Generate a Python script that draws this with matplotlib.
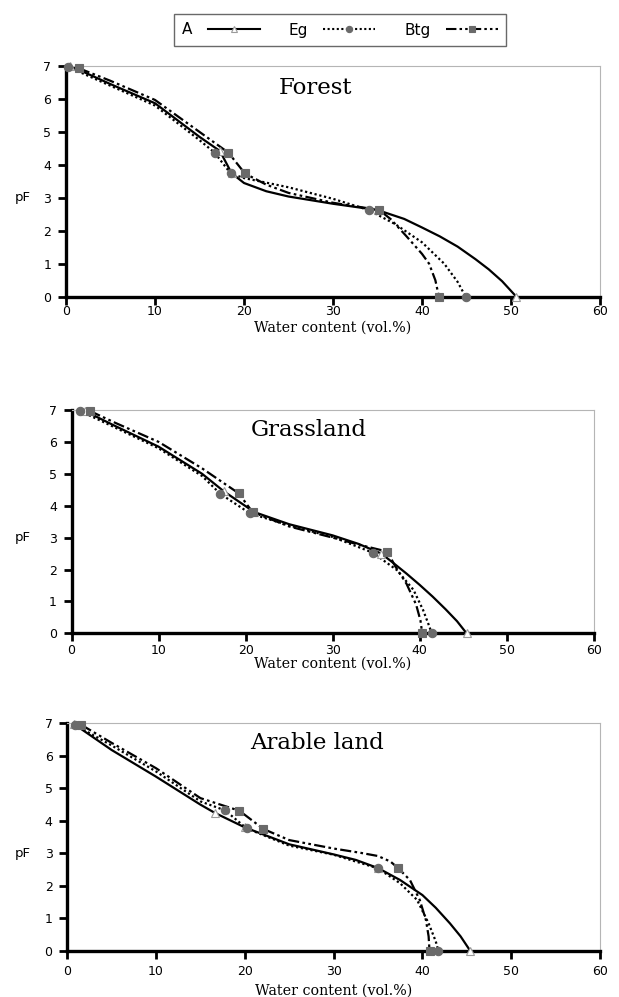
import matplotlib
matplotlib.use("Agg")
import matplotlib.pyplot as plt
from matplotlib.lines import Line2D

# панели
panels = ["Forest", "Grassland", "Arable land"]

# measured points (water content vol.%, pF)
forest_A_pts = [(0.5, 7.0), (17.3, 4.42), (18.6, 3.75), (35.0, 2.63), (50.6, 0.0)]
forest_Eg_pts = [(0.26, 6.97), (16.7, 4.37), (18.5, 3.74), (34.0, 2.63), (44.9, 0.0)]
forest_Btg_pts = [(1.46, 6.93), (18.25, 4.37), (20.1, 3.74), (35.2, 2.63), (41.9, 0.0)]

grass_A_pts = [(1.5, 6.97), (17.5, 4.45), (21.0, 3.8), (35.6, 2.5), (45.4, 0.0)]
grass_Eg_pts = [(0.97, 6.97), (17.1, 4.37), (20.5, 3.76), (34.6, 2.53), (41.4, 0.0)]
grass_Btg_pts = [(2.1, 6.97), (19.2, 4.39), (20.8, 3.8), (36.3, 2.56), (40.3, 0.0)]

arable_A_pts = [(0.8, 6.97), (16.6, 4.25), (20.0, 3.8), (35.0, 2.55), (45.4, 0.0)]
arable_Eg_pts = [(0.88, 6.95), (17.8, 4.32), (20.2, 3.77), (35.0, 2.54), (41.8, 0.0)]
arable_Btg_pts = [(1.6, 6.95), (19.4, 4.31), (22.1, 3.75), (37.3, 2.54), (40.8, 0.0)]

# fitted curves
forest_A_fit = [(0.5, 7.0), (5, 6.45), (10, 5.87), (15, 4.85), (17.3, 4.42), (18.6, 3.75),
                (20, 3.45), (22.5, 3.2), (25, 3.04), (30, 2.82), (35.0, 2.63), (38, 2.36),
                (40, 2.1), (42, 1.83), (44, 1.52), (46, 1.14), (47.5, 0.83), (49, 0.47),
                (50.6, 0.0)]
forest_Eg_fit = [(0.26, 6.97), (5, 6.4), (10, 5.8), (15, 4.75), (16.7, 4.37), (18.5, 3.74),
                 (20, 3.6), (25, 3.32), (30, 2.97), (34.0, 2.63), (37, 2.2), (40, 1.65),
                 (42.5, 1.0), (44, 0.45), (44.9, 0.0)]
forest_Btg_fit = [(1.46, 6.93), (5, 6.55), (10, 5.97), (15, 5.0), (18.25, 4.37), (20.1, 3.74),
                  (22.5, 3.4), (25, 3.15), (30, 2.85), (35.2, 2.63), (36.5, 2.35), (38.2, 1.85),
                  (40, 1.3), (40.8, 1.0), (41.5, 0.5), (41.9, 0.0)]

grass_A_fit = [(1.5, 6.97), (5, 6.5), (10, 5.85), (15, 5.0), (17.5, 4.45), (21.0, 3.8),
               (25, 3.42), (30, 3.07), (33, 2.8), (35.6, 2.5), (37, 2.2), (38.5, 1.87),
               (40, 1.52), (41.5, 1.15), (43, 0.75), (44.3, 0.38), (45.4, 0.0)]
grass_Eg_fit = [(0.97, 6.97), (5, 6.45), (10, 5.8), (15, 4.93), (17.1, 4.37), (20.5, 3.76),
                (25, 3.38), (30, 3.02), (34.6, 2.53), (37.4, 1.98), (39.3, 1.36),
                (40.4, 0.73), (41.0, 0.3), (41.4, 0.0)]
grass_Btg_fit = [(2.1, 6.97), (5, 6.6), (10, 6.0), (15, 5.17), (19.2, 4.39), (20.8, 3.8),
                 (25, 3.35), (30, 3.0), (33, 2.78), (36.3, 2.56), (37.2, 2.1), (38.5, 1.55),
                 (39.6, 0.9), (40.1, 0.4), (40.3, 0.0)]

arable_A_fit = [(0.8, 6.97), (5, 6.18), (10, 5.36), (15, 4.5), (16.6, 4.25), (20.0, 3.8),
                (25, 3.28), (30, 2.97), (32.5, 2.8), (35.0, 2.55), (37.5, 2.18), (40, 1.72),
                (41.5, 1.33), (43.1, 0.85), (44.3, 0.45), (45.4, 0.0)]
arable_Eg_fit = [(0.88, 6.95), (5, 6.32), (10, 5.52), (15, 4.6), (17.8, 4.32), (20.2, 3.77),
                 (25, 3.24), (30, 2.96), (35.0, 2.54), (37.5, 2.08), (39.4, 1.57), (40.7, 0.85),
                 (41.5, 0.3), (41.8, 0.0)]
arable_Btg_fit = [(1.6, 6.95), (5, 6.4), (10, 5.62), (15, 4.7), (19.4, 4.31), (22.1, 3.75),
                  (25, 3.41), (30, 3.15), (33, 3.02), (35, 2.92), (36.4, 2.75), (37.3, 2.54),
                  (38.6, 2.18), (39.7, 1.57), (40.4, 0.95), (40.7, 0.45), (40.8, 0.0)]

x_ticks = [0, 10, 20, 30, 40, 50, 60]
y_ticks = [0, 1, 2, 3, 4, 5, 6, 7]

series = ["A", "Eg", "Btg"]
styles = {
    "A": dict(ls="-", marker="^", mfc="white", mec="#9a9a9a", ms=5.5),
    "Eg": dict(ls=(0, (1, 1.2)), marker="o", mfc="#6a6a6a", mec="#6a6a6a", ms=6),
    "Btg": dict(ls=(0, (5, 1.5, 1.2, 1.5, 1.2, 1.5)), marker="s", mfc="#6a6a6a", mec="#6a6a6a", ms=5.5),
}

panel_data = [
    (forest_A_fit, forest_Eg_fit, forest_Btg_fit, forest_A_pts, forest_Eg_pts, forest_Btg_pts),
    (grass_A_fit, grass_Eg_fit, grass_Btg_fit, grass_A_pts, grass_Eg_pts, grass_Btg_pts),
    (arable_A_fit, arable_Eg_fit, arable_Btg_fit, arable_A_pts, arable_Eg_pts, arable_Btg_pts),
]

W, H = 619, 997
# axes boxes in pixels: left, top, right, bottom
boxes = [(66, 66, 600, 296.7), (71.6, 410, 593.6, 633.3), (67.2, 723.3, 600, 951)]
title_px = [(316, 88), (309, 430), (317, 743)]
tick_pad = [0.8, 2.2, 4.5]
xlabel_y = [328, 664, 991]

sans = ["DejaVu Sans"]
serif = ["DejaVu Serif"]

fig = plt.figure(figsize=(W / 100, H / 100), dpi=100)

for i, name in enumerate(panels):
    l, t, r, b = boxes[i]
    ax = fig.add_axes([l / W, 1 - b / H, (r - l) / W, (b - t) / H])
    fits = panel_data[i][:3]
    pts = panel_data[i][3:]
    for s, fit, p in zip(series, fits, pts):
        st = styles[s]
        ax.plot([q[0] for q in fit], [q[1] for q in fit], color="black", lw=1.6,
                ls=st["ls"], zorder=2, solid_capstyle="butt", solid_joinstyle="round")
        ax.plot([q[0] for q in p], [q[1] for q in p], ls="none", marker=st["marker"],
                mfc=st["mfc"], mec=st["mec"], ms=st["ms"], mew=0.8, zorder=3, clip_on=False)

    ax.set_xlim(0, 60)
    ax.set_ylim(0, 7)
    ax.set_xticks(x_ticks)
    ax.set_yticks(y_ticks)
    for sp in ["left", "bottom"]:
        ax.spines[sp].set_linewidth(2.4)
        ax.spines[sp].set_color("black")
    for sp in ["top", "right"]:
        ax.spines[sp].set_linewidth(0.8)
        ax.spines[sp].set_color("#b5b5b5")
    ax.tick_params(axis="both", direction="out", length=5.5, width=2, labelsize=9,
                   top=False, right=False)
    ax.tick_params(axis="x", pad=tick_pad[i])
    ax.tick_params(axis="y", pad=5)
    for lab in ax.get_xticklabels() + ax.get_yticklabels():
        lab.set_family(sans)

    tx = (title_px[i][0] - l) / (r - l)
    ty = (b - title_px[i][1]) / (b - t)
    ax.text(tx, ty, name, transform=ax.transAxes,
            ha="center", va="center", fontsize=16.5, family=serif)

    ax.set_xlabel("Water content (vol.%)", fontsize=10.3, family=serif, va="center")
    ax.xaxis.set_label_coords(0.5, -(xlabel_y[i] - b) / (b - t))
    ax.set_ylabel("pF", rotation=0, fontsize=9.5, family=sans, va="center", ha="center")
    ax.yaxis.set_label_coords(-(l - 23) / (r - l), 3 / 7)

handles = []
for s in series:
    st = styles[s]
    handles.append(Line2D([], [], color="black", lw=1.5, ls=st["ls"], marker=st["marker"],
                          mfc=st["mfc"], mec=st["mec"], ms=4.5, mew=0.8))
leg = fig.legend(handles, series, loc="center", bbox_to_anchor=(340 / W, 1 - 30 / H),
                 ncol=3, markerfirst=False, frameon=True, fancybox=False,
                 handlelength=3.4, handletextpad=1.0, columnspacing=1.9,
                 borderpad=0.55, borderaxespad=0, prop={"family": sans, "size": 11})
leg.get_frame().set_edgecolor("#444444")
leg.get_frame().set_linewidth(1.0)

fig.savefig("out.png", dpi=100)
